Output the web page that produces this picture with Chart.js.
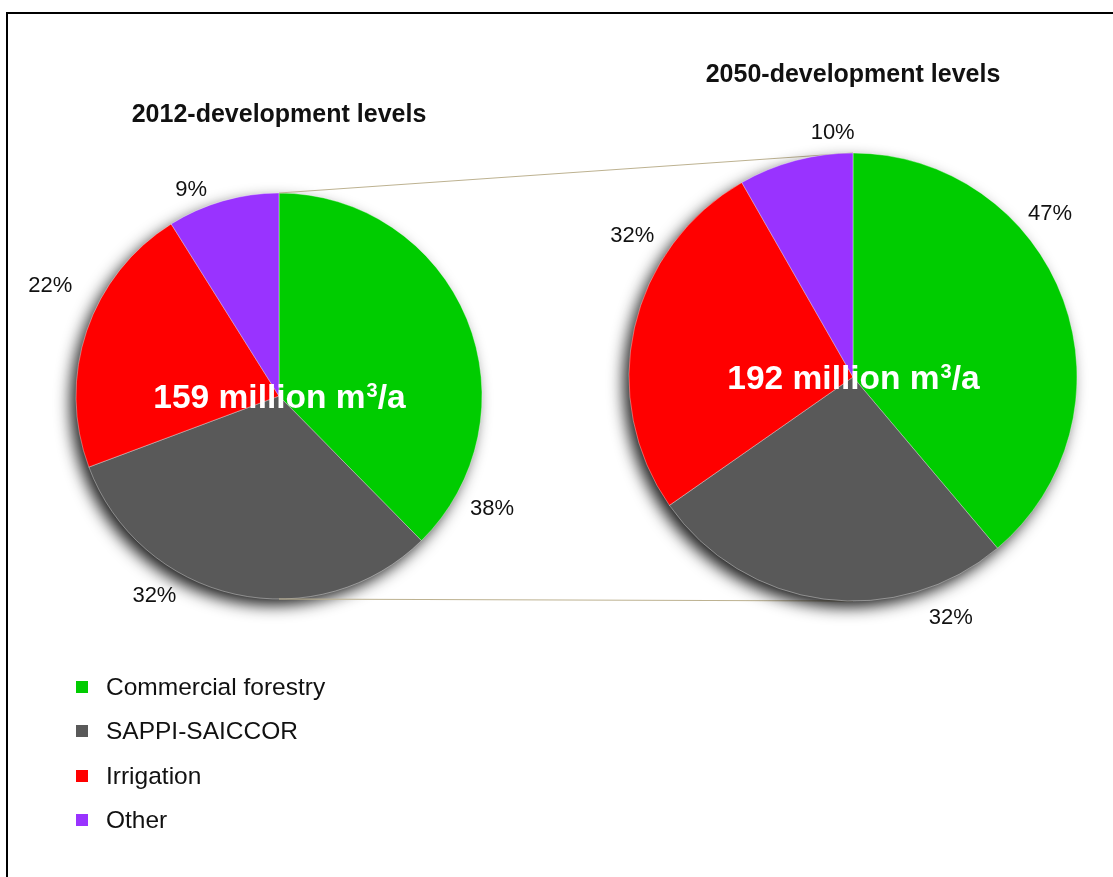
<!DOCTYPE html>
<html>
<head>
<meta charset="utf-8">
<title>Water requirements by sector</title>
<script src="https://cdn.jsdelivr.net/npm/chart.js@4/dist/chart.umd.min.js"></script>
<style>
  html, body { margin: 0; padding: 0; background: #fff; }
  #stage {
    position: relative;
    width: 1113px;
    height: 877px;
    overflow: hidden;
    font-family: "Liberation Sans", Arial, sans-serif;
  }
  #stage canvas { position: absolute; left: 0; top: 0; pointer-events: none; }
  #frame {
    position: absolute;
    left: 6px;
    top: 12px;
    width: 1200px;
    height: 1000px;
    border-left: 2px solid #000;
    border-top: 2px solid #000;
  }
  #legend { position: absolute; left: 76px; top: 665px; }
  .item { display: flex; align-items: center; height: 44.3px; font-size: 24.5px; color: #111; }
  .swatch { width: 12px; height: 12px; margin-right: 18px; }
</style>
</head>
<body>
<div id="stage">
  <div id="frame"></div>
  <canvas id="pie2012" width="1113" height="877"></canvas>
  <canvas id="pie2050" width="1113" height="877"></canvas>
  <div id="legend"></div>
</div>

<script>
// -----------------------------
// Data
// -----------------------------
const sectors = ["Commercial forestry", "SAPPI-SAICCOR", "Irrigation", "Other"];
const sectorColors = ["#00cc00", "#595959", "#ff0000", "#9933ff"];

const share2012 = [38, 32, 22, 9];   // %
const share2050 = [47, 32, 32, 10];  // %

const totals = ["159", "192"];       // million m3/a
const titles = ["2012-development levels", "2050-development levels"];

// where each % label sits: [fraction along the slice, gap outside the rim]
const labelPlacement2012 = [[0.87, 38], [0.67, 33], [0.59, 51], [0.28, 21]];
const labelPlacement2050 = [[0.36, 32], [0.19, 36], [0.71, 38], [0.84, 21]];

const W = 1113, H = 877;
const FONT = '"Liberation Sans", Arial, sans-serif';

let leftChart = null;

// pads the chart area so its centre lands on (cx, cy)
function centredPadding(cx, cy) {
  const hx = Math.min(cx, W - cx);
  const hy = Math.min(cy, H - cy);
  return { left: cx - hx, right: W - cx - hx, top: cy - hy, bottom: H - cy - hy };
}

function arcGeometry(chart) {
  const arc = chart.getDatasetMeta(0).data[0];
  return arc.getProps(["x", "y", "outerRadius"], true);
}

// "159 million m³/a" with a raised 3
function drawVolume(ctx, x, y, amount) {
  const head = amount + " million m";
  const tail = "/a";
  ctx.save();
  ctx.fillStyle = "#ffffff";
  ctx.textAlign = "left";
  ctx.textBaseline = "alphabetic";
  ctx.font = "bold 33.5px " + FONT;
  const wHead = ctx.measureText(head).width;
  const wTail = ctx.measureText(tail).width;
  ctx.font = "bold 20px " + FONT;
  const wSup = ctx.measureText("3").width;
  let left = x - (wHead + wSup + wTail) / 2;
  const base = y + 12;
  ctx.font = "bold 33.5px " + FONT;
  ctx.fillText(head, left, base);
  ctx.font = "bold 20px " + FONT;
  ctx.fillText("3", left + wHead + 1, base - 11);
  ctx.font = "bold 33.5px " + FONT;
  ctx.fillText(tail, left + wHead + wSup + 1, base);
  ctx.restore();
}

// -----------------------------
// Shadow, titles, % labels, totals, connectors
// -----------------------------
const pieDecor = {
  id: "pieDecor",
  beforeDatasetsDraw(chart, args, opts) {
    const ctx = chart.ctx;
    const { x, y, outerRadius } = arcGeometry(chart);

    // connector lines from the smaller pie
    if (opts.linked && leftChart) {
      const src = arcGeometry(leftChart);
      ctx.save();
      ctx.strokeStyle = "#bdb291";
      ctx.lineWidth = 1.2;
      ctx.beginPath();
      ctx.moveTo(src.x, src.y - src.outerRadius);
      ctx.lineTo(x, y - outerRadius);
      ctx.moveTo(src.x, src.y + src.outerRadius);
      ctx.lineTo(x, y + outerRadius);
      ctx.stroke();
      ctx.restore();
    }

    // soft drop shadow under the pie
    ctx.save();
    ctx.shadowColor = "rgba(0, 0, 0, 0.9)";
    ctx.shadowBlur = 16;
    ctx.shadowOffsetX = -6;
    ctx.shadowOffsetY = 7;
    ctx.fillStyle = "#595959";
    ctx.beginPath();
    ctx.arc(x, y, outerRadius - 1, 0, Math.PI * 2);
    ctx.fill();
    ctx.restore();
  },
  afterDatasetsDraw(chart, args, opts) {
    const ctx = chart.ctx;
    const { x, y, outerRadius } = arcGeometry(chart);
    const values = chart.data.datasets[0].data;

    // title
    ctx.save();
    ctx.fillStyle = "#111";
    ctx.font = "bold 25px " + FONT;
    ctx.textAlign = "center";
    ctx.textBaseline = "middle";
    ctx.fillText(opts.title, x, y - outerRadius - 78);

    // percentage labels
    ctx.font = "22px " + FONT;
    chart.getDatasetMeta(0).data.forEach((arc, i) => {
      const { startAngle, endAngle } = arc.getProps(["startAngle", "endAngle"], true);
      const [frac, gap] = opts.placement[i];
      const a = startAngle + (endAngle - startAngle) * frac;
      const r = outerRadius + gap;
      ctx.fillText(values[i] + "%", x + Math.cos(a) * r, y + Math.sin(a) * r);
    });
    ctx.restore();

    drawVolume(ctx, x, y, opts.total);
  }
};

function makePie(canvasId, values, centre, radius, decor) {
  return new Chart(document.getElementById(canvasId), {
    type: "pie",
    data: {
      labels: sectors,
      datasets: [{
        data: values,
        backgroundColor: sectorColors,
        borderColor: "rgba(255, 255, 255, 0.6)",
        borderWidth: 0.6
      }]
    },
    options: {
      responsive: false,
      animation: false,
      events: [],
      radius: radius,
      layout: { padding: centredPadding(centre[0], centre[1]) },
      plugins: {
        legend: { display: false },
        tooltip: { enabled: false },
        pieDecor: decor
      }
    },
    plugins: [pieDecor]
  });
}

document.addEventListener("DOMContentLoaded", () => {
  leftChart = makePie("pie2012", share2012, [279, 396], 203, {
    title: titles[0], total: totals[0], placement: labelPlacement2012, linked: false
  });

  makePie("pie2050", share2050, [853, 377], 224, {
    title: titles[1], total: totals[1], placement: labelPlacement2050, linked: true
  });

  // -----------------------------
  // Legend
  // -----------------------------
  const legend = document.getElementById("legend");
  sectors.forEach((name, i) => {
    const row = document.createElement("div");
    row.className = "item";
    const sw = document.createElement("span");
    sw.className = "swatch";
    sw.style.background = sectorColors[i];
    const txt = document.createElement("span");
    txt.textContent = name;
    row.appendChild(sw);
    row.appendChild(txt);
    legend.appendChild(row);
  });
});
</script>
</body>
</html>
